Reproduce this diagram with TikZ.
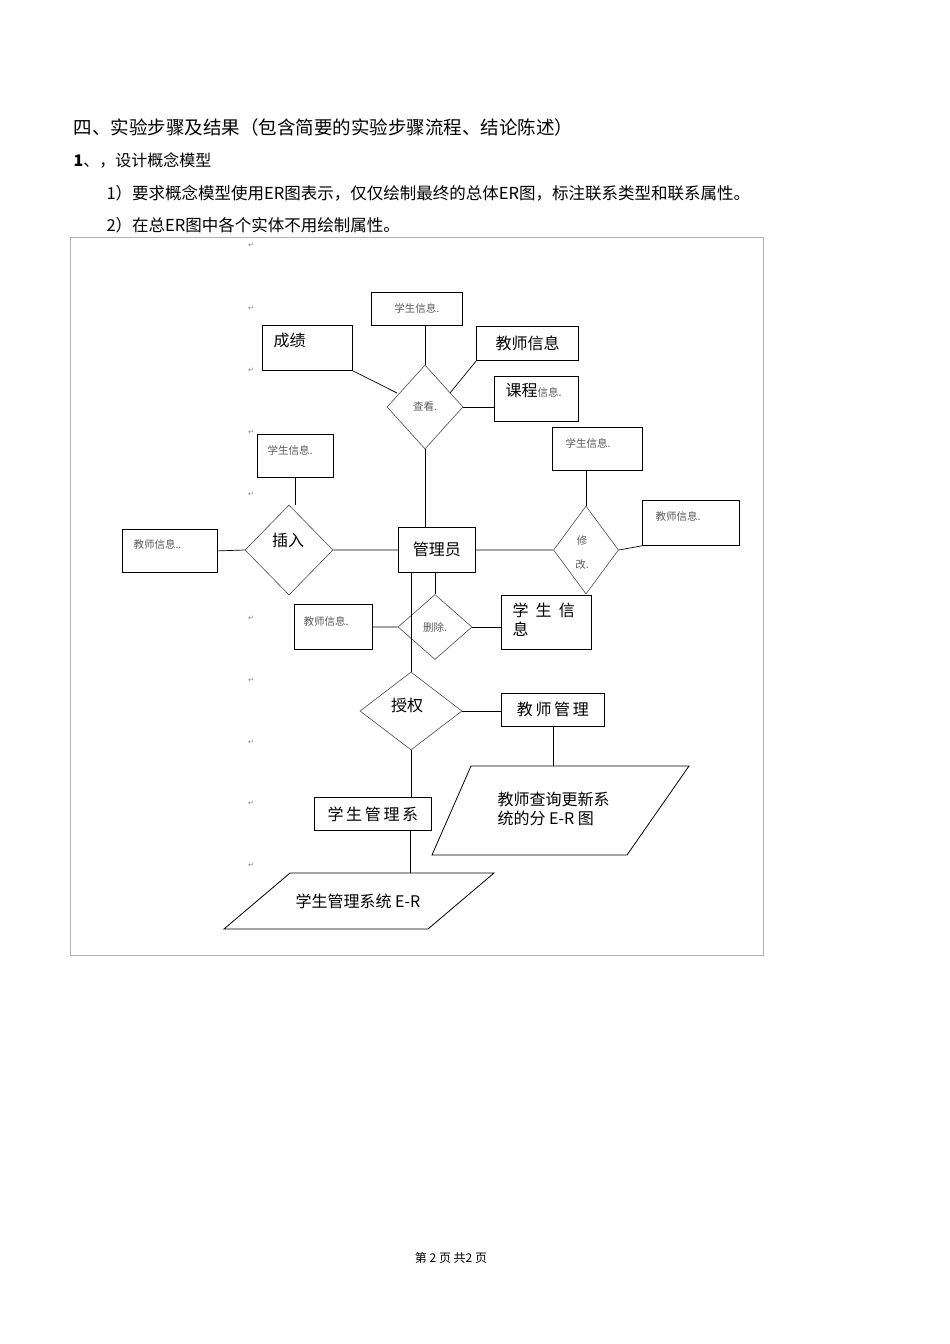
\documentclass[tikz,border=0pt]{standalone}
\usepackage{fontspec}
\setmainfont{Noto Sans CJK SC}
\newfontfamily\symf{DejaVu Sans}
\usetikzlibrary{shapes.geometric}
\begin{document}
\begin{tikzpicture}[x=1pt,y=-1pt,
  ent/.style={draw,line width=0.8pt,inner sep=0pt,anchor=north west},
  rel/.style={draw,diamond,line width=0.6pt,inner sep=0pt,gray!60!black},
  lnk/.style={line width=0.7pt},
  sm/.style={font=\fontsize{10.5}{12}\selectfont,text=gray!70!black},
  md/.style={font=\fontsize{16}{19}\selectfont},
  pm/.style={font=\symf\fontsize{7}{8}\selectfont,text=gray}]
\useasboundingbox (0,0) rectangle (950,1344);
% header text
\node[anchor=west,font=\fontsize{18.5}{21}\selectfont] (h1) at (70,127) {四、实验步骤及结果（包含简要的实验步骤流程、结论陈述）};
\node[anchor=west,font=\fontsize{16}{18}\selectfont] (h2) at (70,160) {\textbf{1}、，设计概念模型};
\node[anchor=west,font=\fontsize{16.5}{18}\selectfont] (h3) at (103,193) {1）要求概念模型使用ER图表示，仅仅绘制最终的总体ER图，标注联系类型和联系属性。};
\node[anchor=west,font=\fontsize{16.5}{18}\selectfont] (h4) at (103,225) {2）在总ER图中各个实体不用绘制属性。};
\draw[gray!60,line width=0.6pt] (70,237) rectangle (763,955);
% paragraph marks
\foreach \yy in {245,308,370,432,494,618,680,742,803,865} \node[pm] at (251,\yy) {↵};
% entities
\node[ent,minimum width=91pt,minimum height=33pt,sm] (s1) at (371,292) {学生信息.};
\node[ent,minimum width=90pt,minimum height=45pt] (cj) at (262,325) {};
\node[md,anchor=north west] at (270,330) {成绩};
\node[ent,minimum width=102pt,minimum height=34pt,md,line width=1.2pt] (t1) at (476,326) {教师信息};
\node[ent,minimum width=84pt,minimum height=45pt] (kc) at (494,376) {};
\node[anchor=north west] at (502,380) {\fontsize{16}{19}\selectfont 课程\fontsize{10.5}{12}\selectfont\color{gray!70!black}信息.};
\node[rel,minimum width=76pt,minimum height=84pt,sm] (ck) at (425,407) {查看.};
\node[ent,minimum width=76pt,minimum height=43pt] (s2) at (257,434) {};
\node[sm,anchor=north west] at (264,442) {学生信息.};
\node[rel,minimum width=88pt,minimum height=90pt] (cr) at (289,550) {};
\node[md] at (288,540) {插入};
\node[ent,minimum width=95pt,minimum height=43pt] (t2) at (122,529) {};
\node[sm,anchor=north west] at (130,536) {教师信息..};
\node[ent,minimum width=77pt,minimum height=45pt,md] (gly) at (398,527) {管理员};
\node[rel,minimum width=65pt,minimum height=88pt] (xg) at (586,550) {};
\node[sm] at (582,540) {修};
\node[sm] at (582,565) {改.};
\node[ent,minimum width=90pt,minimum height=43pt] (s3) at (552,427) {};
\node[sm,anchor=north west] at (562,435) {学生信息.};
\node[ent,minimum width=97pt,minimum height=45pt] (t3) at (642,500) {};
\node[sm,anchor=north west] at (652,508) {教师信息.};
\node[rel,minimum width=74pt,minimum height=65pt,sm] (sc) at (435,627) {删除.};
\node[ent,minimum width=78pt,minimum height=45pt] (t4) at (294,604) {};
\node[sm,anchor=north west] at (300,613) {教师信息.};
\node[ent,minimum width=90pt,minimum height=54pt,line width=1.1pt] (s4) at (501,595) {};
\node[md,anchor=north west,align=left] at (509,599) {学\ \ 生\ \ 信\\息};
\node[rel,minimum width=102pt,minimum height=78pt] (sq) at (411,711) {};
\node[md] at (407,705) {授权};
\node[ent,minimum width=103pt,minimum height=33pt,md] (jsgl) at (501,693) {教\,师\,管\,理};
\node[ent,minimum width=117pt,minimum height=33pt,md] (xsgl) at (314,797) {学\,生\,管\,理\,系};
% parallelograms
\draw[line width=0.8pt] (471,766) -- (689,766) -- (627,855) -- (432,855) -- cycle;
\node[md,anchor=north west,align=left] (p1t) at (494,788) {教师查询更新系\\统的分 E-R 图};
\coordinate (p1top) at (553,766);
\draw[line width=0.8pt] (290,873) -- (494,873) -- (428,929) -- (224,929) -- cycle;
\node[md] (p2t) at (358,901) {学生管理系统 E-R};
\coordinate (p2top) at (410,873);
% connectors
\draw[lnk] (s1.south -| ck.north) -- (ck.north);
\draw[lnk] (cj.south east) -- (397,393);
\draw[lnk] (t1.south west) -- (450,393);
\draw[lnk] (ck.east) -- (kc.west |- ck.east);
\draw[lnk] (ck.south) -- (gly.north -| ck.south);
\draw[lnk] (s2.south) -- (cr.north -| s2.south);
\draw[lnk] (t2.east) -- (cr.west);
\draw[lnk] (cr.east) -- (gly.west);
\draw[lnk] (gly.east) -- (xg.west);
\draw[lnk] (s3.south -| xg.north) -- (xg.north);
\draw[lnk] (xg.east) -- (t3.south west);
\draw[lnk] (gly.south -| sc.north) -- (sc.north);
\draw[lnk] (t4.east) -- (sc.west);
\draw[lnk] (sc.east) -- (s4.west |- sc.east);
\draw[lnk] (gly.south -| sq.north) -- (sq.north);
\draw[lnk] (sq.east) -- (jsgl.west |- sq.east);
\draw[lnk] (jsgl.south -| p1top) -- (p1top);
\draw[lnk] (sq.south) -- (xsgl.north -| sq.south);
\draw[lnk] (xsgl.south -| p2top) -- (p2top);
% footer
\node[font=\fontsize{12}{14}\selectfont] (ft) at (451,1258) {第 2 页 共2 页};
\end{tikzpicture}
\end{document}
